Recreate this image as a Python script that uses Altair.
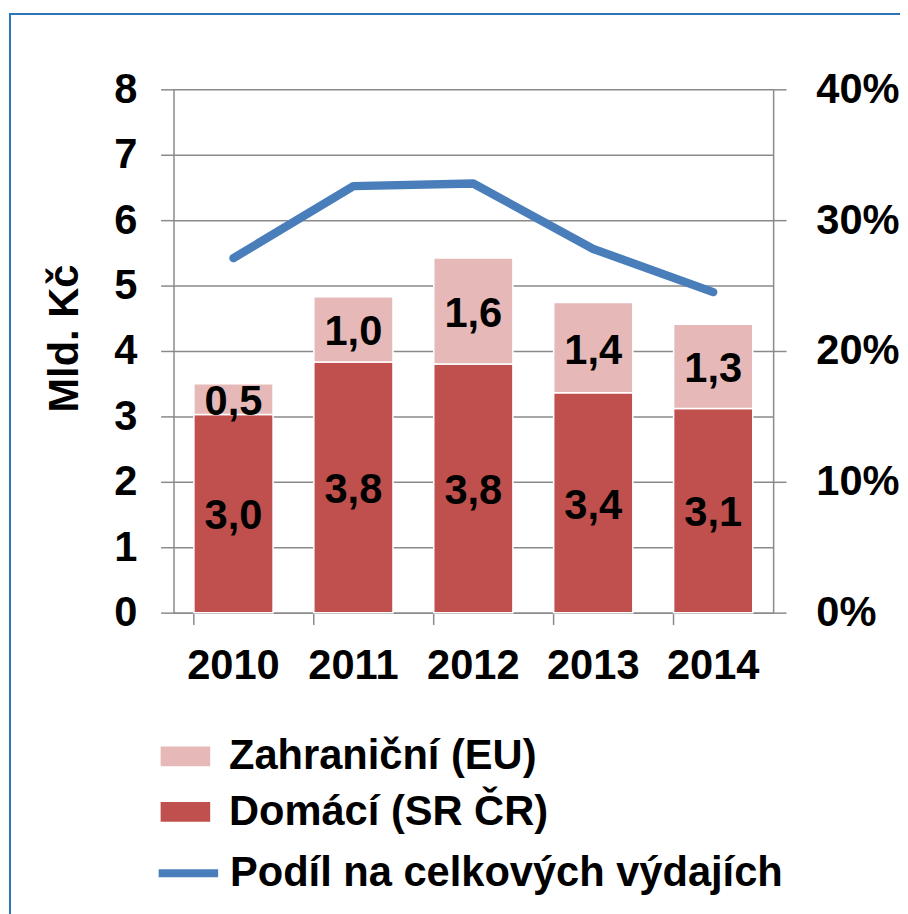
import altair as alt
import pandas as pd

years = ["2010", "2011", "2012", "2013", "2014"]
domestic = [3.03, 3.83, 3.80, 3.36, 3.12]
foreign = [0.47, 1.00, 1.62, 1.38, 1.29]
share = [0.271, 0.326, 0.328, 0.278, 0.245]

dom_name = "Domácí (SR ČR)"
for_name = "Zahraniční (EU)"
line_name = "Podíl na celkových výdajích"

rows = []
for y, d, f in zip(years, domestic, foreign):
    rows.append({"year": y, "type": dom_name, "value": d, "order": 0})
    rows.append({"year": y, "type": for_name, "value": f, "order": 1})
bars_df = pd.DataFrame(rows)
line_df = pd.DataFrame({"year": years, "share": share, "series": [line_name] * len(years)})

FONT = "Liberation Sans"
FS = 42
GRID = "#8a8a8a"

xscale = alt.Scale(domain=years, paddingInner=0.34, paddingOuter=0.17)
xaxis = alt.Axis(title=None, labelFont=FONT, labelFontSize=FS, labelFontWeight="bold",
                 labelColor="black", labelPadding=21, bandPosition=0, tickSize=12,
                 tickColor=GRID, tickWidth=1.5, domainColor=GRID, domainWidth=1.5, labelAngle=0)

yaxis = alt.Axis(title="Mld. Kč", values=list(range(0, 9)), grid=True, gridColor=GRID,
                 gridWidth=1.5, tickSize=13, tickColor=GRID, tickWidth=1.5,
                 domainColor=GRID, domainWidth=1.5, labelFont=FONT, labelFontSize=FS,
                 labelFontWeight="bold", labelColor="black", labelPadding=24,
                 titleFont=FONT, titleFontSize=FS, titleFontWeight="bold",
                 titleColor="black", titleX=-110, titleY=251, titleBaseline="middle")
yscale = alt.Scale(domain=[0, 8])

base = alt.Chart(bars_df).transform_stack(
    stack="value", groupby=["year"], as_=["v0", "v1"], sort=[alt.SortField("order")]
).transform_calculate(
    mid="(datum.v0 + datum.v1) / 2",
    label="replace(format(datum.value, '.1f'), '.', ',')",
)

bars = base.mark_bar(stroke="white", strokeWidth=1.5).encode(
    x=alt.X("year:N", scale=xscale, axis=xaxis),
    y=alt.Y("v0:Q", scale=yscale, axis=yaxis, title="Mld. Kč"),
    y2="v1:Q",
    color=alt.Color("type:N",
                    scale=alt.Scale(domain=[for_name, dom_name], range=["#E6B9B8", "#C0504D"]),
                    legend=alt.Legend(title=None, orient="none", legendX=-13, legendY=648,
                                      symbolType="M-1,-0.4H1V0.4H-1Z", symbolSize=2500,
                                      symbolStrokeWidth=0, labelFont=FONT, labelFontSize=FS,
                                      labelFontWeight="bold", labelColor="black", labelLimit=700,
                                      labelOffset=19, rowPadding=10, padding=0)),
    order=alt.Order("order:Q"),
)

texts = base.mark_text(font=FONT, fontSize=FS, fontWeight="bold", color="black",
                       baseline="middle", dy=3).encode(
    x=alt.X("year:N", scale=xscale, axis=xaxis),
    y=alt.Y("mid:Q", scale=yscale, axis=yaxis, title="Mld. Kč"),
    text="label:N",
)

line = alt.Chart(line_df).mark_line(strokeWidth=8.5, strokeCap="round", strokeJoin="round").encode(
    x=alt.X("year:N", scale=xscale, axis=xaxis),
    y=alt.Y("share:Q", scale=alt.Scale(domain=[0, 0.4]),
            axis=alt.Axis(title=None, orient="right", values=[0, 0.1, 0.2, 0.3, 0.4], format=".0%",
                          grid=False, tickSize=13, tickColor=GRID, tickWidth=1.5,
                          domainColor=GRID, domainWidth=1.5, labelFont=FONT, labelFontSize=FS,
                          labelFontWeight="bold", labelColor="black", labelPadding=30)),
    stroke=alt.Stroke("series:N", scale=alt.Scale(domain=[line_name], range=["#4A7EBB"]),
                      legend=alt.Legend(title=None, orient="none", legendX=-19, legendY=757,
                                        symbolType="stroke", symbolSize=3600, symbolStrokeWidth=8,
                                        labelFont=FONT, labelFontSize=FS, labelFontWeight="bold",
                                        labelColor="black", labelLimit=700, labelOffset=8,
                                        padding=0)),
)

frame = alt.Chart(alt.Data(values=[{"a": 1}])).mark_rect(
    fill=None, stroke="#2E75B6", strokeWidth=2
).encode(
    x=alt.value(-165), x2=alt.value(740), y=alt.value(-76), y2=alt.value(850)
)

bar_layer = alt.layer(bars, texts)

chart = alt.layer(bar_layer, line, frame).resolve_scale(
    y="independent", color="independent", stroke="independent"
).properties(
    width=605, height=528,
    padding={"left": 167, "top": 78, "right": 128, "bottom": 300},
    autosize=alt.AutoSizeParams(type="none"),
).configure_view(stroke=None)

chart.save("out.html", embed_options={"renderer": "svg", "actions": False})
